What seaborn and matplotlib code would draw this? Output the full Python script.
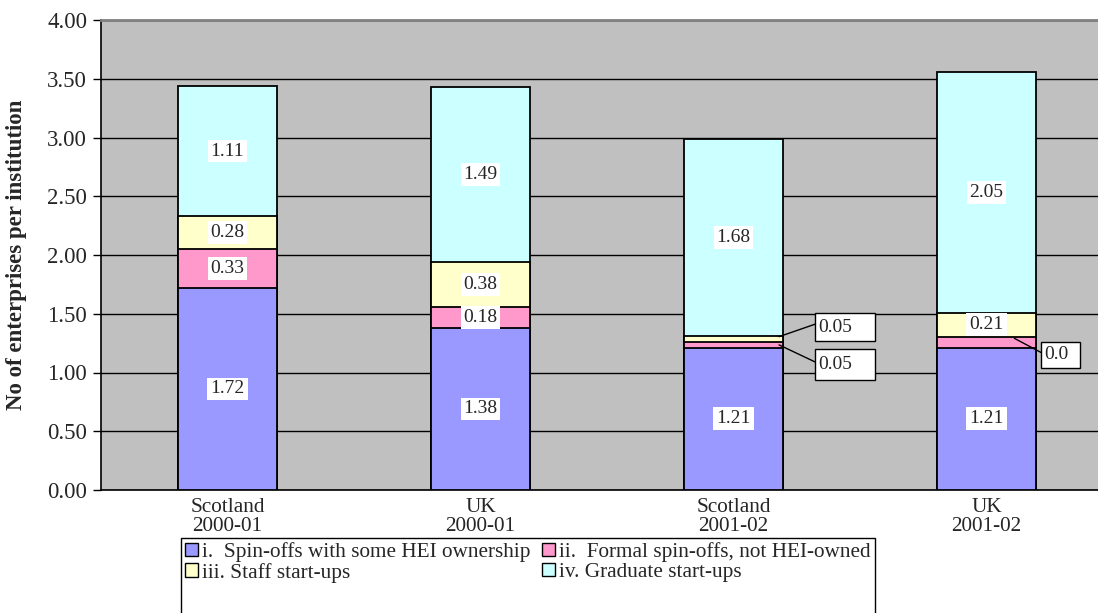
import numpy as np
import pandas as pd
import matplotlib
matplotlib.use("Agg")
import matplotlib.pyplot as plt
from matplotlib.patches import Patch, Rectangle
import seaborn as sns

# --- data -------------------------------------------------------------
groups = ["Scotland\n2000-01", "UK\n2000-01", "Scotland\n2001-02", "UK\n2001-02"]
spin_hei = [1.72, 1.38, 1.21, 1.21]        # i.  spin-offs with some HEI ownership
spin_formal = [0.33, 0.18, 0.05, 0.09]     # ii. formal spin-offs, not HEI-owned
staff = [0.28, 0.38, 0.05, 0.21]           # iii. staff start-ups
graduate = [1.11, 1.49, 1.68, 2.05]        # iv. graduate start-ups
series_names = [
    "i.  Spin-offs with some HEI ownership",
    "ii.  Formal spin-offs, not HEI-owned",
    "iii. Staff start-ups",
    "iv. Graduate start-ups",
]
series_colors = ["#9999FF", "#FF99CC", "#FFFFCC", "#CCFFFF"]
y_ticks = [0.0, 0.5, 1.0, 1.5, 2.0, 2.5, 3.0, 3.5, 4.0]

# --- style ------------------------------------------------------------
sns.set_theme(style="white")
plt.rcParams["font.family"] = ["Liberation Serif", "DejaVu Serif"]
FS_Y = 16.5     # y tick labels and axis title
FS_X = 15.3     # category labels and legend
FS_V = 14       # value labels

series = [spin_hei, spin_formal, staff, graduate]
df = pd.DataFrame({"group": groups})
for name, vals in zip(series_names, series):
    df[name] = vals
tops = df[series_names].cumsum(axis=1)
bottoms = tops.shift(1, axis=1).fillna(0.0)

fig = plt.figure(figsize=(10.98, 6.13), dpi=100)
ax = fig.add_axes([101 / 1098, 123 / 613, 1012 / 1098, 470 / 613])
ax.set_facecolor("#C0C0C0")

# stacked bars: draw cumulative totals, tallest first
for name, color in reversed(list(zip(series_names, series_colors))):
    plot_df = pd.DataFrame({"group": groups, "top": tops[name]})
    sns.barplot(data=plot_df, x="group", y="top", order=groups, color=color,
                saturation=1, width=0.395, edgecolor="black", linewidth=1.3,
                errorbar=None, ax=ax, zorder=3)

ax.set_xlim(-0.5, 3.5)
ax.set_ylim(0, 4)
ax.set_yticks(y_ticks)
ax.set_yticklabels([f"{v:.2f}" for v in y_ticks], fontsize=FS_Y)
ax.yaxis.grid(True, color="black", linewidth=1, zorder=0)
ax.set_axisbelow(True)
ax.set_xlabel("")
ax.set_ylabel("No of enterprises per institution", fontsize=FS_Y, fontweight="bold")
ax.yaxis.set_label_coords(-0.073, 0.5)

ax.set_xticks(range(len(groups)))
ax.set_xticklabels(groups, fontsize=FS_X)
for t in ax.get_xticklabels():
    t.set_linespacing(1.0)
ax.set_xticks([0.5, 1.5, 2.5], minor=True)
ax.tick_params(axis="x", which="major", length=0, pad=6)
ax.tick_params(axis="x", which="minor", length=6, width=1, color="black", direction="out")
ax.tick_params(axis="y", length=6, width=1, color="black", direction="out", left=True, pad=4)

for side in ["left", "bottom"]:
    ax.spines[side].set_color("black")
    ax.spines[side].set_linewidth(1.2)
ax.spines["top"].set_color("#808080")
ax.spines["top"].set_linewidth(2)
ax.spines["right"].set_visible(False)

# --- value labels ------------------------------------------------------
small = {(2, 1), (2, 2), (3, 1)}  # segments too thin for an inside label
for i in range(len(groups)):
    for j, name in enumerate(series_names):
        if (i, j) in small:
            continue
        v = df.loc[i, name]
        yc = bottoms.loc[i, name] + v / 2
        ax.text(i, yc, f"{v:.2f}", ha="center", va="center", fontsize=FS_V, zorder=5,
                bbox=dict(boxstyle="square,pad=0.15", fc="white", ec="none"))


def callout(i, j, anchor_dx, anchor_frac, box_x, box_y, box_w, box_h, text):
    name = series_names[j]
    ya = bottoms.loc[i, name] + df.loc[i, name] * anchor_frac
    ax.annotate("", xy=(i + anchor_dx, ya), xytext=(box_x, box_y + box_h * 0.1),
                arrowprops=dict(arrowstyle="-", color="black", lw=1,
                                shrinkA=0, shrinkB=0), zorder=5)
    ax.add_patch(Rectangle((box_x, box_y - box_h / 2), box_w, box_h, fc="white",
                           ec="black", lw=1, zorder=6, clip_on=False))
    ax.text(box_x + 0.014, box_y, text, ha="left", va="center", fontsize=FS_V, zorder=7)


px_x = 1 / 253.0     # data units per pixel, horizontally
px_y = 1 / 117.5     # data units per pixel, vertically
callout(2, 2, 0.18, 0.9, 2.322, 1.387, 60 * px_x, 28 * px_y, f"{staff[2]:.2f}")
callout(2, 1, 0.18, 0.5, 2.322, 1.064, 60 * px_x, 31 * px_y, f"{spin_formal[2]:.2f}")
# the narrow callout box only has room for three characters
callout(3, 1, 0.11, 0.9, 3.215, 1.149, 39 * px_x, 26 * px_y, f"{spin_formal[3]:.2f}"[:3])

# --- legend ------------------------------------------------------------
handles = [Patch(facecolor=c, edgecolor="black", linewidth=1) for c in series_colors]
order = [0, 2, 1, 3]
leg = fig.legend([handles[k] for k in order], [series_names[k] for k in order],
                 ncol=2, loc="upper left", bbox_to_anchor=(181 / 1098, 1 - 538 / 613),
                 fontsize=FS_X, frameon=False,
                 handlelength=0.6, handleheight=0.6, handletextpad=0.2,
                 columnspacing=0.55, labelspacing=0.03, borderpad=0.2,
                 borderaxespad=0)

# legend frame runs on past the lower edge of the figure
fig.canvas.draw()
bb = leg.get_window_extent().transformed(fig.transFigure.inverted())
fig.add_artist(Rectangle((bb.x0, -0.05), bb.width, bb.y1 + 0.05,
                         transform=fig.transFigure, fc="none", ec="black", lw=1,
                         zorder=0))

fig.savefig("out.png", dpi=100)
